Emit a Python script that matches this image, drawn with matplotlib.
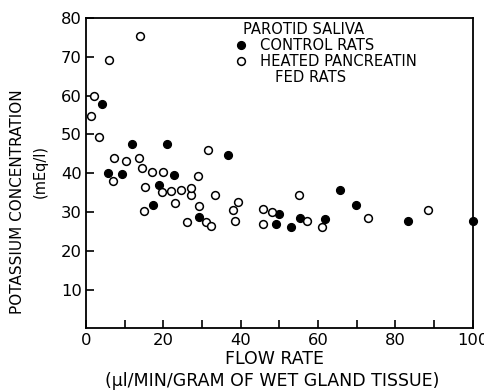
import matplotlib
matplotlib.use('Agg')
import matplotlib.pyplot as plt
import numpy as np

# control rats (filled circles)
control_x = [4.2, 5.8, 9.3, 11.9, 17.3, 19.0, 20.9, 22.8, 29.1, 36.7,
             49.2, 50.0, 53.1, 55.4, 61.9, 65.7, 69.9, 83.2, 100.0]
control_y = [57.8, 40.0, 39.8, 47.6, 31.8, 36.9, 47.6, 39.6, 28.7, 44.6,
             26.9, 29.6, 26.2, 28.4, 28.1, 35.8, 31.7, 27.8, 27.7]

# heated pancreatin fed rats (open circles)
heated_x = [1.4, 2.0, 3.4, 6.0, 7.1, 7.3, 10.3, 13.6, 14.0, 14.6,
            15.0, 15.2, 17.1, 19.7, 19.8, 22.0, 23.1, 24.6, 26.1, 27.1,
            27.2, 28.9, 29.1, 31.0, 31.6, 32.4, 33.3, 37.9, 38.6, 39.2,
            45.8, 45.8, 48.0, 55.0, 57.2, 61.1, 72.9, 88.4]
heated_y = [54.8, 59.8, 49.4, 69.3, 38.0, 44.0, 43.2, 44.0, 75.4, 41.4,
            30.2, 36.4, 40.3, 35.1, 40.3, 35.4, 32.3, 35.6, 27.4, 34.4,
            36.2, 39.3, 31.6, 27.4, 45.9, 26.5, 34.4, 30.5, 27.8, 32.5,
            30.9, 27.0, 30.1, 34.4, 27.6, 26.2, 28.4, 30.5]

x_major = [0, 20, 40, 60, 80, 100]
x_minor = [10, 30, 50, 70, 90]
y_ticks = [10, 20, 30, 40, 50, 60, 70, 80]

plt.rcParams['font.family'] = 'DejaVu Sans'

fig = plt.figure(figsize=(4.85, 3.92), dpi=100)
ax = fig.add_axes([0.1773, 0.162, 0.7973, 0.792])

ax.plot(control_x, control_y, 'o', ms=5.6, mfc='black', mec='black', mew=1.0, clip_on=False)
ax.plot(heated_x, heated_y, 'o', ms=5.6, mfc='white', mec='black', mew=1.1, clip_on=False)

ax.set_xlim(0, 100)
ax.set_ylim(0, 80)
ax.set_xticks(x_major)
ax.set_xticks(x_minor, minor=True)
ax.set_yticks(y_ticks)
ax.tick_params(which='both', direction='in', length=6, width=1.2, labelsize=11.8, pad=3)
for s in ax.spines.values():
    s.set_linewidth(1.3)

# legend drawn as text
ax.plot([40.0], [73.0], 'o', ms=5.6, mfc='black', mec='black')
ax.plot([40.0], [68.8], 'o', ms=5.6, mfc='white', mec='black', mew=1.1)
ax.text(40.5, 77.0, 'PAROTID SALIVA', fontsize=10.6, va='center', ha='left')
ax.text(45.0, 73.0, 'CONTROL RATS', fontsize=10.6, va='center', ha='left')
ax.text(45.0, 68.8, 'HEATED PANCREATIN', fontsize=10.6, va='center', ha='left')
ax.text(49.0, 64.6, 'FED RATS', fontsize=10.6, va='center', ha='left')

fig.text(275 / 485, 1 - 359 / 392, 'FLOW RATE', fontsize=12.5, ha='center', va='center')
fig.text(272 / 485, 1 - 381 / 392, '(μl/MIN/GRAM OF WET GLAND TISSUE)', fontsize=12.5,
         ha='center', va='center')
fig.text(18 / 485, 1 - 202 / 392, 'POTASSIUM CONCENTRATION', fontsize=11,
         rotation=90, ha='center', va='center')
fig.text(40 / 485, 1 - 172 / 392, '(mEq/l)', fontsize=10.5,
         rotation=90, ha='center', va='center')

fig.savefig('out.png', dpi=100)
